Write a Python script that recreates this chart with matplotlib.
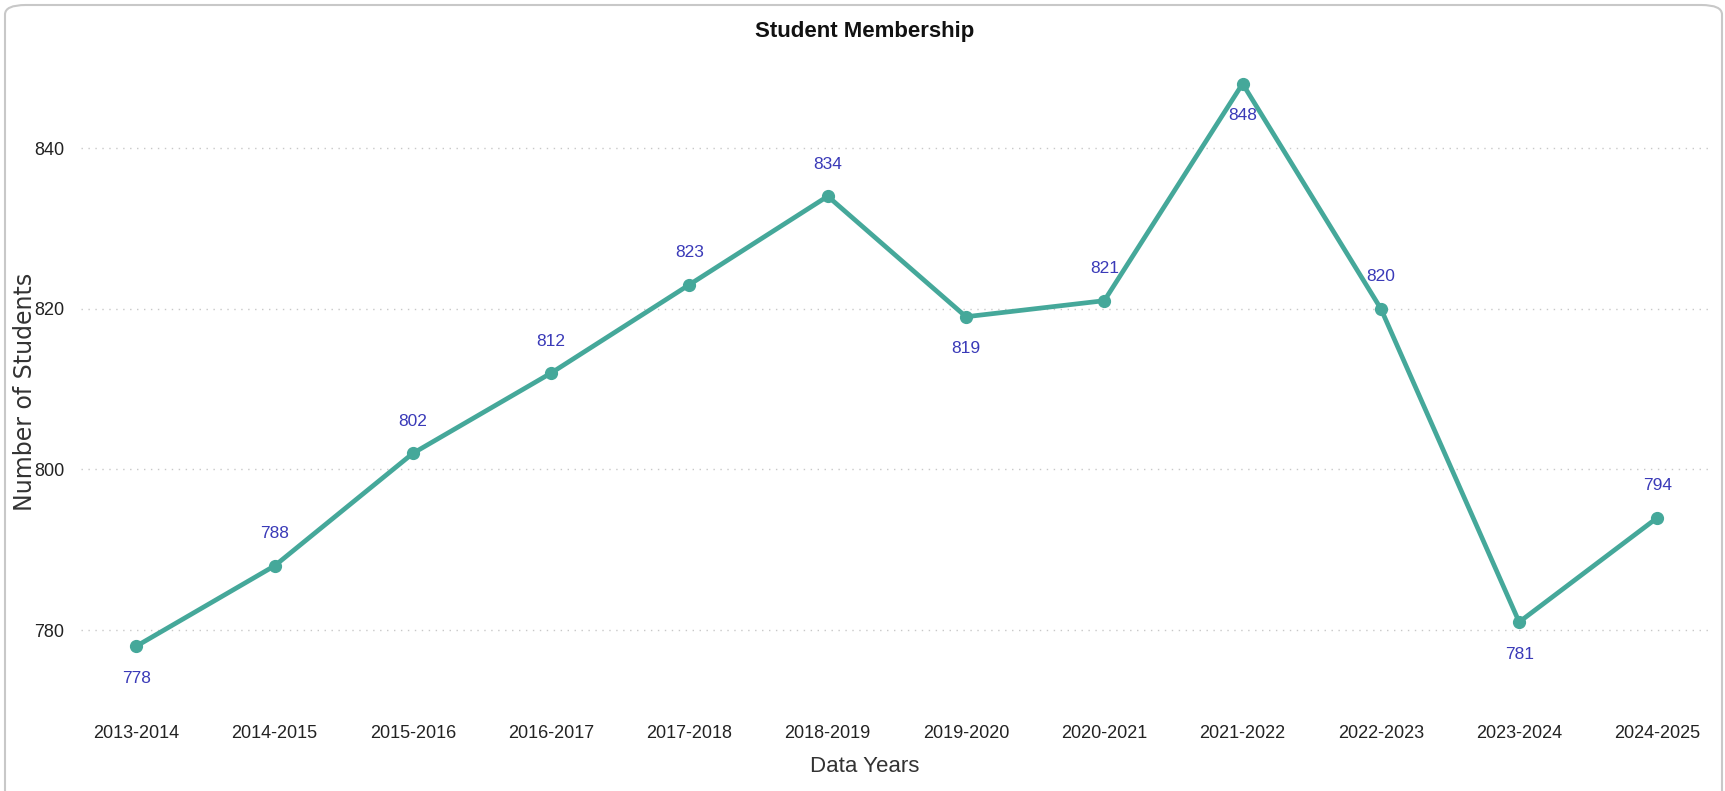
import matplotlib.pyplot as plt
from matplotlib.patches import FancyBboxPatch

# data
years = ["2013-2014", "2014-2015", "2015-2016", "2016-2017", "2017-2018", "2018-2019",
         "2019-2020", "2020-2021", "2021-2022", "2022-2023", "2023-2024", "2024-2025"]
students = [778, 788, 802, 812, 823, 834, 819, 821, 848, 820, 781, 794]
# label placement: 1 = above the point, -1 = below
label_side = [-1, 1, 1, 1, 1, 1, -1, 1, -1, 1, -1, 1]

plt.rcParams['font.family'] = ['Liberation Sans', 'DejaVu Sans']

fig = plt.figure(figsize=(17.25, 7.91), dpi=100)
W, H = 1725, 791
ax = fig.add_axes([81 / W, 1 - 700 / H, (1710 - 81) / W, (700 - 50) / H])

# rounded card border
card = FancyBboxPatch((5 / W, -0.05), (1722 - 5) / W, 1.05 - 5 / H,
                      boxstyle="round,pad=0,rounding_size=0.012",
                      transform=fig.transFigure, facecolor="none",
                      edgecolor="#c8c8c8", linewidth=1.5, zorder=0)
fig.patches.append(card)

x = list(range(len(years)))
teal = "#45a89a"
ax.plot(x, students, color=teal, lw=3.4, marker="o", markersize=8.5,
        solid_capstyle="round", zorder=3)

for xi, v, side in zip(x, students, label_side):
    ax.annotate(str(v), (xi, v), xytext=(0, 23 * side), textcoords="offset points",
                ha="center", va="center", color="#3a3ab8", fontsize=12.5)

ax.set_xlim(-0.4, 11.38)
ax.set_ylim(771.3, 852.2)
ax.set_yticks([780, 800, 820, 840])
ax.set_xticks(x)
ax.set_xticklabels(years)
ax.tick_params(axis="both", length=0, colors="#222222")
ax.tick_params(axis="x", pad=18, labelsize=13)
ax.tick_params(axis="y", pad=12, labelsize=13)
ax.grid(axis="y", linestyle=(0, (1, 4)), color="#c8c8c8", linewidth=1)
ax.set_axisbelow(True)
for s in ax.spines.values():
    s.set_visible(False)

fig.text(865 / W, 1 - 31 / H, "Student Membership", ha="center", va="center",
         fontsize=16, fontweight="bold", color="#111111")
fig.text(865 / W, 1 - 766 / H, "Data Years", ha="center", va="center",
         fontsize=16, color="#333333")
fig.text(25 / W, 1 - 392 / H, "Number of Students", ha="center", va="center",
         rotation=90, fontsize=17, color="#333333", family=["DejaVu Sans"])

fig.savefig("out.png", dpi=100, facecolor="white")
